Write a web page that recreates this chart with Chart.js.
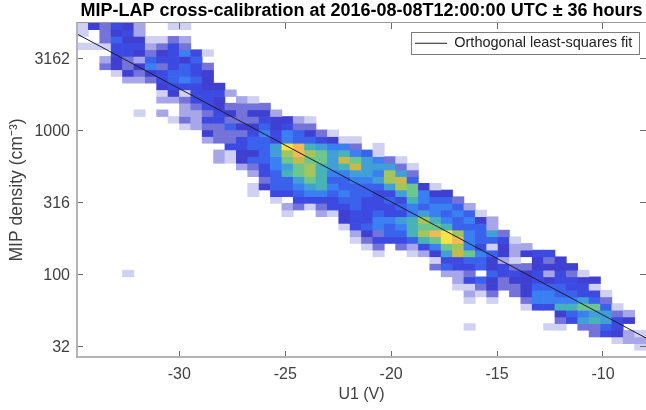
<!DOCTYPE html>
<html>
<head>
<meta charset="utf-8">
<style>
  html, body { margin: 0; padding: 0; background: #fff; }
  #wrap { width: 646px; height: 410px; }
</style>
<script src="https://cdn.jsdelivr.net/npm/chart.js@4/dist/chart.umd.min.js"></script>
</head>
<body>
<div id="wrap"><canvas id="chart" width="646" height="410"></canvas></div>
<script>
const xTicks = [-30, -25, -20, -15, -10];
const yTicks = [31.62, 100, 316.2, 1000, 3162];
const yTickLabels = ["32", "100", "316", "1000", "3162"];

// axis limits, the histogram has 50 x 50 bins over exactly this range
const uMin = -34.83, uMax = -7.97;
const logMin = 1.426, logMax = 3.743;
const binCount = 50;

// fit line end points (U1, density)
const fitU = [-34.83, -7.97];
const fitDensity = [4645, 36.1];

// counts per row of bins, top row first. firstColumn = left bin of that row
const firstColumn = [
  0, 0, 2, 0, 3, 2, 2, 3, 4, 7,
  7, 7, 9, 5, 8, 9, 11, 11, 13, 12,
  12, 14, 15, 16, 15, 15, 17, 18, 18, 23,
  23, 24, 24, 25, 26, 31, 31, 32, 33, 33,
  34, 34, 39, 42, 42, 34, 45, 47, 49
];
const counts = [
  [1,4,3,5,4,2,0,0,1,1],
  [1,0,3,4,5,2],
  [3,6,4,4,1,1,3,2],
  [1,1,1,5,5,5,2,3,5,3],
  [5,5,4,3,4,5,7,5,1],
  [2,4,3,2,6,5,5,4,6],
  [3,4,3,4,7,3,5,6,5,3],
  [1,4,3,4,5,6,6,5,4],
  [2,2,3,5,6,7,6,4],
  [4,5,5,5,4,4],
  [1,4,1,5,5,5,2],
  [2,2,3,5,5,4,0,2,1],
  [2,3,5,4,3,3,3,3],
  [1,0,2,0,2,2,3,5,4,3,4,4,2],
  [1,3,2,5,5,3,3,3,5,4,4,2,1],
  [1,2,3,3,6,4,4,6,4,5,3,3],
  [4,3,3,3,5,7,5,7,6,4,3,1],
  [2,3,3,5,6,6,5,7,6,6,5,4,1,1],
  [5,5,6,6,8,14,13,9,8,7,7,3,0,1],
  [2,1,4,4,6,8,11,13,11,10,8,9,7,6,1],
  [2,1,4,6,6,7,10,12,10,10,8,12,10,8,7,3,1],
  [2,3,5,7,8,10,11,9,8,9,12,8,8,8,3,1],
  [2,5,6,9,10,11,9,7,7,8,8,7,11,8,3],
  [3,6,6,8,10,9,6,6,7,7,8,11,12,6],
  [1,4,6,6,7,8,9,7,6,6,6,6,8,11,10,4,1],
  [1,0,5,5,6,7,7,6,7,6,6,5,5,8,10,7,4,4],
  [1,0,5,5,5,5,6,6,5,5,6,5,9,7,6,6,3],
  [2,3,1,3,5,5,6,5,5,5,6,7,6,7,7,6,2],
  [1,0,0,2,1,4,5,5,6,5,5,7,8,7,6,7,6,1],
  [4,5,5,7,7,8,9,11,9,7,6,7,4,2],
  [1,5,6,7,6,7,9,10,10,9,6,6,6,2],
  [2,4,3,6,6,9,11,13,14,11,7,6,8,3],
  [1,3,5,5,5,6,9,10,14,13,7,6,6,5,1],
  [1,3,0,3,2,5,7,10,11,7,5,1,4,2,2],
  [1,0,0,1,2,4,8,12,10,7,6,4,2,4,5,5],
  [1,5,5,6,6,4,2,1,0,4,3,4],
  [3,6,5,5,6,4,5,3,3,4,4,4,4],
  [2,2,3,0,6,5,5,4,5,2,5,3,1],
  [2,5,6,4,3,4,4,5,4,5,5,4,4],
  [1,1,3,4,3,3,4,6,6,6,5,5,1],
  [2,1,3,0,3,4,7,7,6,6,5,5,1],
  [1,0,1,0,0,3,7,7,7,7,8,6,3],
  [1,5,5,9,9,10,10,6,1],
  [4,6,7,8,8,3,2],
  [3,5,8,9,8,5,4],
  [1,0,0,0,0,0,0,1,1,0,3,3,6,5],
  [3,5,4,2,1],
  [1,2,2],
  [1]
];
// the one cell far away from the band: column, row, count
const loneCell = [4, 37, 1];

const countColors = [
  "#ffffff", "#d0d0f3", "#a6a6e8", "#7373da", "#3f3fd2",
  "#3d4ae2", "#3b62ec", "#3a80f2", "#419fd8", "#47b3b8",
  "#6dc78d", "#a5c55c", "#c9b94a", "#f3b955", "#f6e345"
];

const uBin = (uMax - uMin) / binCount;
const logBin = (logMax - logMin) / binCount;

// a bin as a floating bar between its two density edges
function cell(col, row, count) {
  return {
    x: uMin + (col + 0.5) * uBin,
    y: [Math.pow(10, logMax - (row + 1) * logBin), Math.pow(10, logMax - row * logBin)],
    count: count,
  };
}

const barSets = counts.map((row, r) => {
  const data = [];
  row.forEach((c, i) => {
    if (c > 0) data.push(cell(firstColumn[r] + i, r, c));
  });
  if (r === loneCell[1]) data.push(cell(loneCell[0], loneCell[1], loneCell[2]));
  return {
    type: "bar",
    order: 1,
    data: data,
    backgroundColor: data.map((d) => countColors[d.count]),
    borderWidth: 0,
    grouped: false,
    barPercentage: 1,
    categoryPercentage: 1,
  };
});

const fitSet = {
  type: "line",
  order: 0,
  label: "Orthogonal least-squares fit",
  data: fitU.map((u, i) => ({ x: u, y: fitDensity[i] })),
  borderColor: "#1a1a2a",
  borderWidth: 1,
  pointRadius: 0,
};

const FONT = "'Liberation Sans', Arial, sans-serif";
const tickColor = "#404040";
const axisColor = "#b4b4b4";

// legend sits inside the plot, top right, with a thin box round it
const legendBox = {
  id: "legendBox",
  afterLayout(chart) {
    const l = chart.legend;
    l.left = 415; l.right = 639; l.top = 36; l.bottom = 54;
  },
  afterDraw(chart) {
    const ctx = chart.ctx;
    ctx.save();
    ctx.strokeStyle = "#7c7c7c";
    ctx.lineWidth = 1;
    ctx.strokeRect(411.5, 32.5, 228, 22);
    ctx.restore();
  },
};

const tickFont = { family: FONT, size: 16 };

new Chart(document.getElementById("chart"), {
  data: { datasets: [...barSets, fitSet] },
  plugins: [legendBox],
  options: {
    responsive: false,
    animation: false,
    events: [],
    layout: { padding: 0 },
    plugins: {
      tooltip: { enabled: false },
      title: {
        display: true,
        fullSize: false,
        text: "MIP-LAP cross-calibration at 2016-08-08T12:00:00 UTC ± 36 hours",
        color: "#000",
        font: { family: FONT, size: 18, weight: "bold", lineHeight: 1.2 },
        padding: { top: 0, bottom: 1.4 },
      },
      legend: {
        position: "chartArea",
        align: "start",
        labels: {
          filter: (item) => !!item.text,
          usePointStyle: true,
          pointStyle: "line",
          pointStyleWidth: 32,
          boxHeight: 14,
          padding: 0,
          color: "#222",
          font: { family: FONT, size: 14.5 },
        },
      },
    },
    scales: {
      x: {
        type: "linear",
        position: "bottom",
        min: uMin,
        max: uMax,
        offset: false,
        afterFit: (s) => { s.height = 53; },
        afterBuildTicks: (s) => { s.ticks = xTicks.map((v) => ({ value: v })); },
        grid: { drawOnChartArea: false, offset: false, tickLength: -6, color: "#6a6a6a", z: 1 },
        border: { color: axisColor, width: 2, z: 1 },
        ticks: { color: tickColor, font: tickFont, padding: 14, maxRotation: 0, autoSkip: false,
          callback: (v) => String(v) },
        title: { display: true, text: "U1 (V)", color: tickColor,
          font: { family: FONT, size: 16 }, padding: { top: 0, bottom: 5.5 } },
      },
      y: {
        type: "logarithmic",
        position: "left",
        min: Math.pow(10, logMin),
        max: Math.pow(10, logMax),
        afterFit: (s) => { s.width = 77; },
        afterBuildTicks: (s) => { s.ticks = yTicks.map((v) => ({ value: v })); },
        grid: { drawOnChartArea: false, tickLength: -6, color: "#6a6a6a", z: 1 },
        border: { color: axisColor, width: 2, z: 1 },
        ticks: { color: tickColor, font: tickFont, padding: 13, autoSkip: false, labelOffset: 1.5,
          callback: (v, i) => yTickLabels[i] },
        title: { display: true, text: "MIP density (cm⁻³)", color: tickColor,
          font: { family: FONT, size: 17.5 }, padding: { top: 6.5, bottom: 0 } },
      },
      xTop: {
        type: "linear",
        position: "top",
        min: uMin,
        max: uMax,
        afterFit: (s) => { s.height = 0; },
        afterBuildTicks: (s) => { s.ticks = xTicks.map((v) => ({ value: v })); },
        grid: { drawOnChartArea: false, tickLength: -6, color: "#6a6a6a", z: 1 },
        border: { color: "#9a9a9a", width: 1, z: 1 },
        ticks: { display: false },
      },
      yRight: {
        type: "logarithmic",
        position: "right",
        display: true,
        min: Math.pow(10, logMin),
        max: Math.pow(10, logMax),
        afterFit: (s) => { s.width = 0; },
        afterBuildTicks: (s) => { s.ticks = yTicks.map((v) => ({ value: v })); },
        grid: { drawOnChartArea: false, tickLength: -6, color: "#6a6a6a", z: 1 },
        border: { display: false },
        ticks: { display: false },
      },
    },
  },
});
</script>
</body>
</html>
